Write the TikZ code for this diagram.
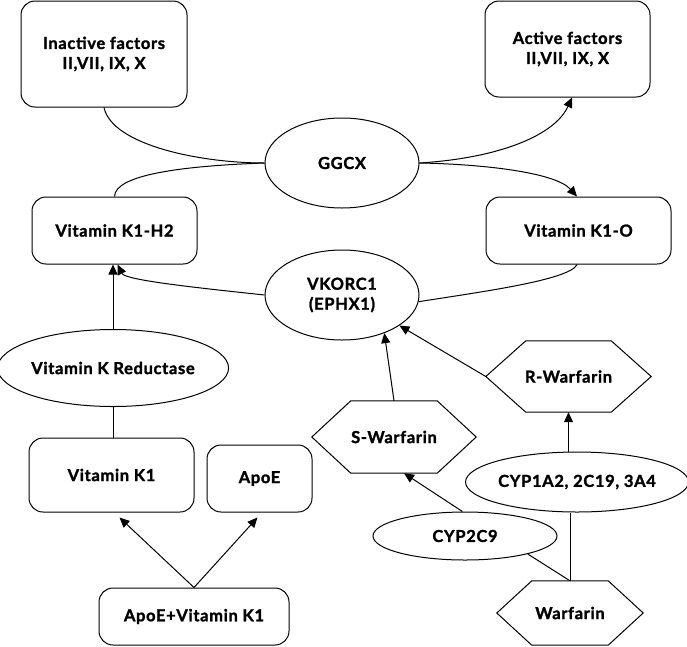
\documentclass[tikz,border=0pt]{standalone}
\usepackage{fontspec}
\setmainfont{Lato}[BoldFeatures={FakeBold=1.5,LetterSpace=4}]
\usetikzlibrary{shapes.geometric,arrows.meta,calc}
\begin{document}
\begin{tikzpicture}[x=1pt,y=-1pt,
  every node/.style={font=\fontsize{16.5}{20}\selectfont\bfseries},
  rbox/.style={draw, rounded corners=14pt, line width=1pt, inner sep=0pt, align=center},
  ell/.style={draw, ellipse, line width=1pt, inner sep=0pt, align=center},
  hexn/.style={inner sep=0pt, align=center},
  hexline/.style={line width=1pt, line join=miter},
  conn/.style={line width=1pt},
  arr/.style={line width=1pt, -{Triangle[length=10pt,width=9pt]}},
]
\useasboundingbox (0,0) rectangle (687,646);

% boxes
\node[rbox, minimum width=166, minimum height=106] (inact) at (104,54) {Inactive factors\\II,VII, IX, X};
\node[rbox, minimum width=165, minimum height=96] (act) at (567.5,49) {Active factors\\II,VII, IX, X};
\node[rbox, minimum width=165, minimum height=67] (k1h2) at (114.5,230.5) {Vitamin K1-H2};
\node[rbox, minimum width=185, minimum height=67] (k1o) at (578.5,230.5) {Vitamin K1-O};
\node[rbox, minimum width=165, minimum height=74] (k1) at (111.5,475) {Vitamin K1};
\node[rbox, minimum width=105, minimum height=67] (apoe) at (259.5,478.5) {ApoE};
\node[rbox, minimum width=190, minimum height=57] (apok) at (194,616.5) {ApoE+Vitamin K1};

% ellipses
\node[ell, minimum width=154, minimum height=90] (ggcx) at (342,163) {GGCX};
\node[ell, minimum width=154, minimum height=90] (vk) at (342,295) {VKORC1\\(EPHX1)};
\node[ell, minimum width=224, minimum height=77] (red) at (113,368) {Vitamin K Reductase};
\node[ell, minimum width=216, minimum height=60] (cyp1) at (577,482) {CYP1A2, 2C19, 3A4};
\node[ell, minimum width=184, minimum height=48] (cyp2) at (465,536) {CYP2C9};

% hexagons
\node[hexn, minimum width=165, minimum height=71] (rw) at (568.5,376.5) {R-Warfarin};
\draw[hexline] (rw.west) -- ([xshift=40]rw.north west) -- ([xshift=-40]rw.north east) -- (rw.east) -- ([xshift=-40]rw.south east) -- ([xshift=40]rw.south west) -- cycle;
\node[hexn, minimum width=164, minimum height=72] (sw) at (394,437) {S-Warfarin};
\draw[hexline] (sw.west) -- ([xshift=39]sw.north west) -- ([xshift=-39]sw.north east) -- (sw.east) -- ([xshift=-39]sw.south east) -- ([xshift=39]sw.south west) -- cycle;
\node[hexn, minimum width=146, minimum height=64] (w) at (570,613) {Warfarin};
\draw[hexline] (w.west) -- ([xshift=35]w.north west) -- ([xshift=-35]w.north east) -- (w.east) -- ([xshift=-35]w.south east) -- ([xshift=35]w.south west) -- cycle;

% connectors top
\draw[conn] (inact.south) .. controls (112,145) and (200,163) .. (ggcx.west);
\draw[conn] (ggcx.west) .. controls (180,166) and (115,175) .. (k1h2.north);
\draw[arr] (ggcx.east) .. controls (500,158) and (555,135) .. ([xshift=4.5]act.south);
\draw[arr] (ggcx.east) .. controls (480,164) and (555,172) .. ([xshift=-1.5]k1o.north);
\draw[arr] (vk.west) .. controls (190,287) and (125,280) .. ([xshift=3]k1h2.south);
\draw[conn] ([xshift=-1.5]k1o.south) .. controls (570,280) and (480,292) .. (vk.-5);

% left column
\draw[arr] (red.north) -- (red.north |- k1h2.south);
\draw[conn] (red.south) -- (red.south |- k1.north);
\draw[arr] (apok.north) -- ([xshift=8,yshift=-5]k1.south);
\draw[arr] (apok.north) -- ([xshift=-2,yshift=-5]apoe.south);

% right column
\draw[arr] (sw.north) -- (vk.-42);
\draw[arr] (rw.west) -- (vk.-28);
\draw[arr] (rw.south |- cyp1.north) -- (rw.south);
\draw[conn] (w.north) -- (cyp1.south -| w.north);
\draw[conn] (w.north) -- (cyp2.-16);
\draw[arr] (cyp2.96) -- ([xshift=10]sw.south);
\end{tikzpicture}
\end{document}
